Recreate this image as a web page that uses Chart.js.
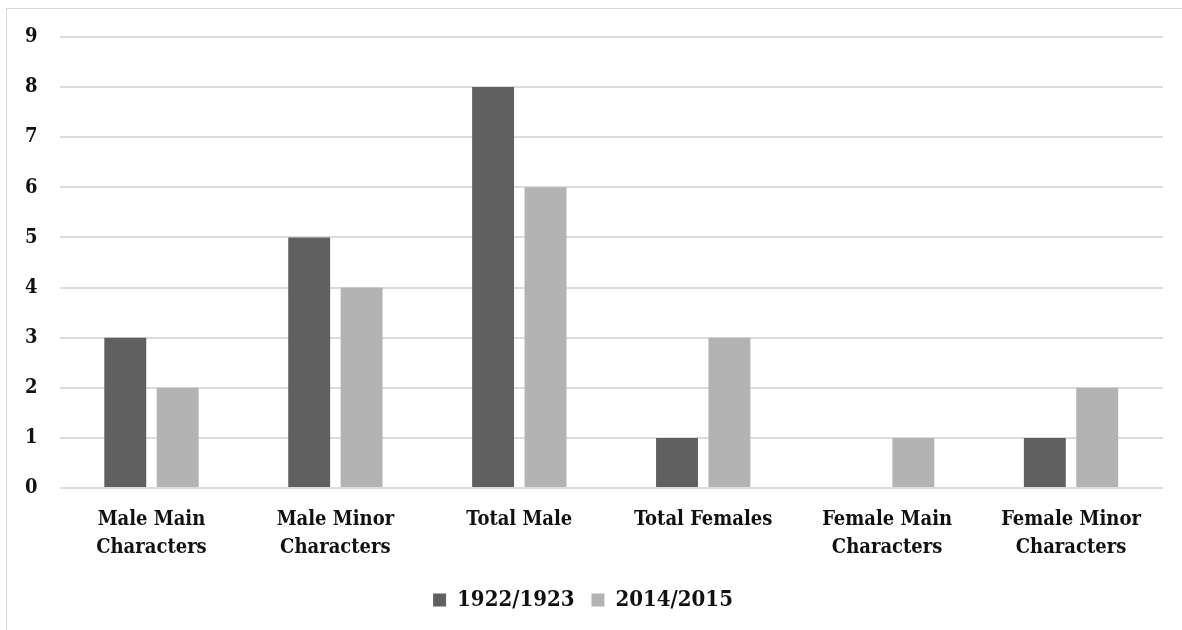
<!DOCTYPE html>
<html>
<head>
<meta charset="utf-8">
<script src="https://cdn.jsdelivr.net/npm/chart.js@4"></script>
<style>
    html, body { margin: 0; padding: 0; background: #fff; overflow: hidden; }
    #frame { position: absolute; left: 6px; top: 8px; width: 1200px; height: 640px; border-left: 1px solid #d9d9d9; border-top: 1px solid #d9d9d9; }
    #wrap { position: absolute; left: 0; top: 0; width: 1182px; height: 630px; }
</style>
</head>
<body>
<div id="frame"></div>
<div id="wrap"><canvas id="myChart"></canvas></div>
<script>
"use strict";
var categories = [
    ["Male Main", "Characters"],
    ["Male Minor", "Characters"],
    "Total Male",
    "Total Females",
    ["Female Main", "Characters"],
    ["Female Minor", "Characters"]
];
var series1922 = [3, 5, 8, 1, 0, 1];
var series2014 = [2, 4, 6, 3, 1, 2];
var seriesNames = ["1922/1923", "2014/2015"];

(function () {
    var font = "'DejaVu Serif Condensed', 'DejaVu Serif', 'Liberation Serif', serif";
    var ctx = document.getElementById("myChart").getContext("2d");
    var chart = new Chart(ctx, {
        type: "bar",
        data: {
            labels: categories,
            datasets: [{
                label: seriesNames[0],
                backgroundColor: "#606060",
                data: series1922
            },
                {
                    label: seriesNames[1],
                    backgroundColor: "#b3b3b3",
                    data: series2014
                }]
        },
        options: {
            responsive: true,
            maintainAspectRatio: false,
            animation: false,
            layout: { padding: { left: 3, right: 19, top: 37, bottom: 9 } },
            datasets: {
                bar: { categoryPercentage: 0.57, barPercentage: 0.8 }
            },
            scales: {
                x: {
                    grid: { display: false },
                    border: { display: false },
                    ticks: {
                        color: "#111",
                        font: { family: font, size: 20, weight: "bold", lineHeight: 1.4 },
                        padding: 10,
                        maxRotation: 0
                    }
                },
                y: {
                    min: 0,
                    max: 9,
                    grid: { color: "#dcdcdc", lineWidth: 2, drawTicks: false },
                    border: { display: false },
                    ticks: {
                        stepSize: 1,
                        color: "#111",
                        font: { family: font, size: 20, weight: "bold" },
                        padding: 22
                    }
                }
            },
            plugins: {
                tooltip: { enabled: false },
                legend: {
                    position: "bottom",
                    labels: {
                        color: "#111",
                        boxWidth: 13,
                        boxHeight: 13,
                        padding: 17,
                        font: { family: font, size: 22, weight: "bold" }
                    }
                }
            }
        }
    });
})();
</script>
</body>
</html>
